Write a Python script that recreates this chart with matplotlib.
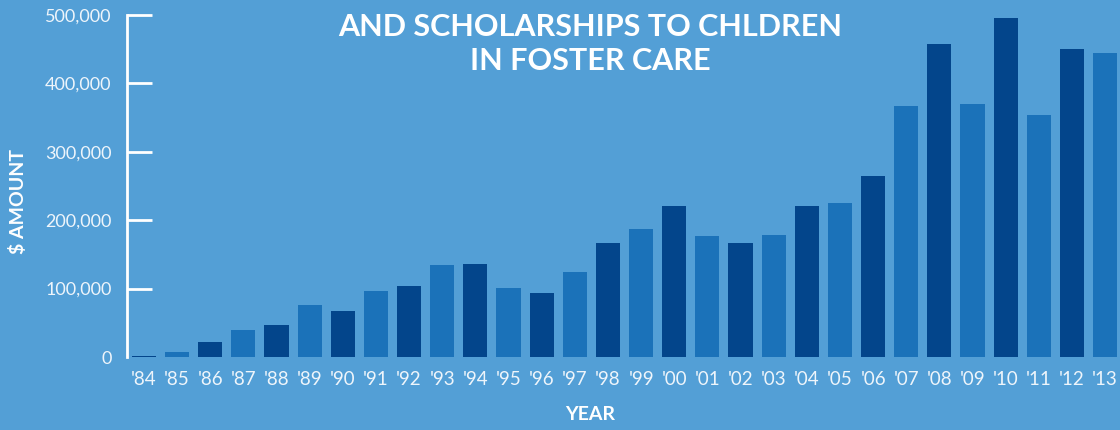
import matplotlib
matplotlib.use('Agg')
import matplotlib.pyplot as plt

# data
years = ["'84", "'85", "'86", "'87", "'88", "'89", "'90", "'91", "'92", "'93",
         "'94", "'95", "'96", "'97", "'98", "'99", "'00", "'01", "'02", "'03",
         "'04", "'05", "'06", "'07", "'08", "'09", "'10", "'11", "'12", "'13"]
amounts = [1500, 8000, 22000, 39500, 47000, 76000, 67000, 97000, 104000, 135000,
           136000, 101000, 94000, 124000, 167000, 187000, 221000, 177000, 167000, 179000,
           221000, 225000, 264000, 367000, 458000, 370000, 495000, 354000, 451000, 444000]
yticks = [0, 100000, 200000, 300000, 400000, 500000]
title = 'AND SCHOLARSHIPS TO CHLDREN\nIN FOSTER CARE'

bg = '#539fd6'
dark = '#03458b'
mid = '#1b72b9'
light_txt = '#eef5fb'

fig = plt.figure(figsize=(11.2, 4.3), dpi=100)
fig.patch.set_facecolor(bg)
ax = fig.add_axes([127 / 1120, 73 / 430, 993 / 1120, 342 / 430])
ax.set_facecolor(bg)

colors = [dark if i % 2 == 0 else mid for i in range(len(years))]
ax.bar(range(len(years)), amounts, width=0.73, color=colors)

ax.set_xlim(-0.51, 29.45)
ax.set_ylim(0, 500000)
ax.set_yticks(yticks)
ax.set_yticklabels([f'{v:,}' for v in yticks])
ax.set_xticks(range(len(years)))
ax.set_xticklabels(years)

for s in ['top', 'right', 'bottom']:
    ax.spines[s].set_visible(False)
ax.spines['left'].set_color('white')
ax.spines['left'].set_linewidth(2)

ax.tick_params(axis='y', direction='in', length=18, width=2, color='white',
               labelcolor=light_txt, labelsize=13, pad=11)
ax.tick_params(axis='x', length=0, labelcolor=light_txt, labelsize=13.5, pad=10)
ax.yaxis.get_major_ticks()[0].tick1line.set_visible(False)
for lab in ax.get_xticklabels() + ax.get_yticklabels():
    lab.set_fontfamily('Lato')

fig.text(590 / 1120, 1 - 415 / 430, 'YEAR', color='white', fontsize=14,
         fontweight='bold', ha='center', va='center', family='Lato')
fig.text(18 / 1120, 1 - 201 / 430, '$ AMOUNT', color='white', fontsize=14,
         fontweight='bold', ha='center', va='center', rotation=90, family='Lato')
fig.text(590 / 1120, 1 - 44 / 430, title, color='white', fontsize=22,
         fontweight='bold', ha='center', va='center', family='Lato',
         linespacing=1.3)

fig.savefig('out.png', dpi=100, facecolor=bg)
